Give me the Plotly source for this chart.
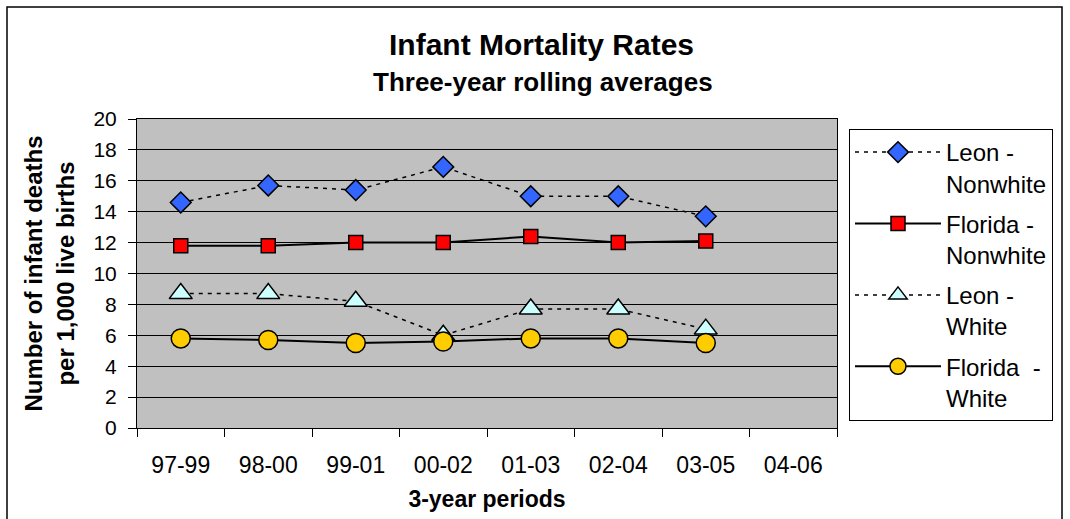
import plotly.graph_objects as go

periods = ["97-99", "98-00", "99-01", "00-02", "01-03", "02-04", "03-05", "04-06"]
leon_nonwhite = [14.6, 15.7, 15.4, 16.9, 15.0, 15.0, 13.7]
florida_nonwhite = [11.8, 11.8, 12.0, 12.0, 12.4, 12.0, 12.1]
leon_white = [8.7, 8.7, 8.2, 6.0, 7.7, 7.7, 6.4]
florida_white = [5.8, 5.7, 5.5, 5.6, 5.8, 5.8, 5.5]

W, H = 1070, 519
L, R, T, B = 137, 837, 119, 428  # plot area in px

FONT = "Arial, Liberation Sans, sans-serif"

def px_x(x):
    return (x - L) / (R - L)

def px_y(y):
    return (B - y) / (B - T)

fig = go.Figure()

series = [
    ("Leon -<br>Nonwhite", leon_nonwhite, "diamond", 16, "#3366FF", "4px,5px", 1.5),
    ("Florida -<br>Nonwhite", florida_nonwhite, "square", 14, "#FF0000", "solid", 2),
    ("Leon -<br>White", leon_white, "triangle-up", 20, "#CCFFFF", "4px,5px", 1.5),
    ("Florida  -<br>White", florida_white, "circle", 19, "#FFCC00", "solid", 2),
]

for i, (name, vals, sym, size, color, dash, lw) in enumerate(series):
    fig.add_trace(go.Scatter(
        x=periods[:len(vals)], y=vals, name=name, mode="lines+markers",
        line=dict(color="black", width=lw, dash=dash),
        marker=dict(symbol=sym, size=size, color=color, line=dict(color="black", width=1.5)),
        legendgroup=f"g{i}",
    ))

fig.update_layout(
    width=W, height=H,
    margin=dict(l=L, r=W - R, t=T, b=H - B),
    paper_bgcolor="white", plot_bgcolor="#C0C0C0",
    font=dict(family=FONT, size=22, color="black"),
    showlegend=True,
    legend=dict(
        x=px_x(849), y=px_y(129), xanchor="left", yanchor="top",
        bordercolor="black", borderwidth=1, bgcolor="white",
        font=dict(family=FONT, size=24), valign="top",
        tracegroupgap=6, itemwidth=86,
    ),
    annotations=[
        dict(text="<b>Infant Mortality Rates</b>", x=px_x(541), y=px_y(45), xref="paper", yref="paper",
             showarrow=False, font=dict(size=30, family=FONT), xanchor="center", yanchor="middle"),
        dict(text="<b>Three-year rolling averages</b>", x=px_x(543), y=px_y(82), xref="paper", yref="paper",
             showarrow=False, font=dict(size=26, family=FONT), xanchor="center", yanchor="middle"),
    ],
    shapes=[
        dict(type="rect", xref="paper", yref="paper", x0=px_x(7), x1=px_x(1062), y0=px_y(540), y1=px_y(7),
             line=dict(color="black", width=1.5), fillcolor="rgba(0,0,0,0)", layer="below"),
    ],
)

fig.update_xaxes(
    type="category", categoryorder="array", categoryarray=periods, range=[-0.5, 7.5],
    tickson="boundaries", ticks="outside", ticklen=8, tickcolor="black", tickwidth=1,
    showline=True, linecolor="black", linewidth=1, mirror=True, showgrid=False,
    tickfont=dict(size=23, family=FONT), ticklabelstandoff=16,
    title=dict(text="<b>3-year periods</b>", font=dict(size=23, family=FONT), standoff=14),
)
fig.update_yaxes(
    range=[0, 20], dtick=2, tick0=0, ticks="outside", ticklen=8, tickcolor="black",
    showline=True, linecolor="black", linewidth=1, mirror=True,
    showgrid=True, gridcolor="black", gridwidth=1, zeroline=False,
    tickfont=dict(size=21, family=FONT), ticklabelstandoff=7,
    title=dict(text="<b>Number of infant deaths<br>per 1,000 live births</b>", font=dict(size=24, family=FONT), standoff=12),
)

fig.write_html("out.html", config={"displayModeBar": False},
               post_script="document.body.style.margin='0';")
